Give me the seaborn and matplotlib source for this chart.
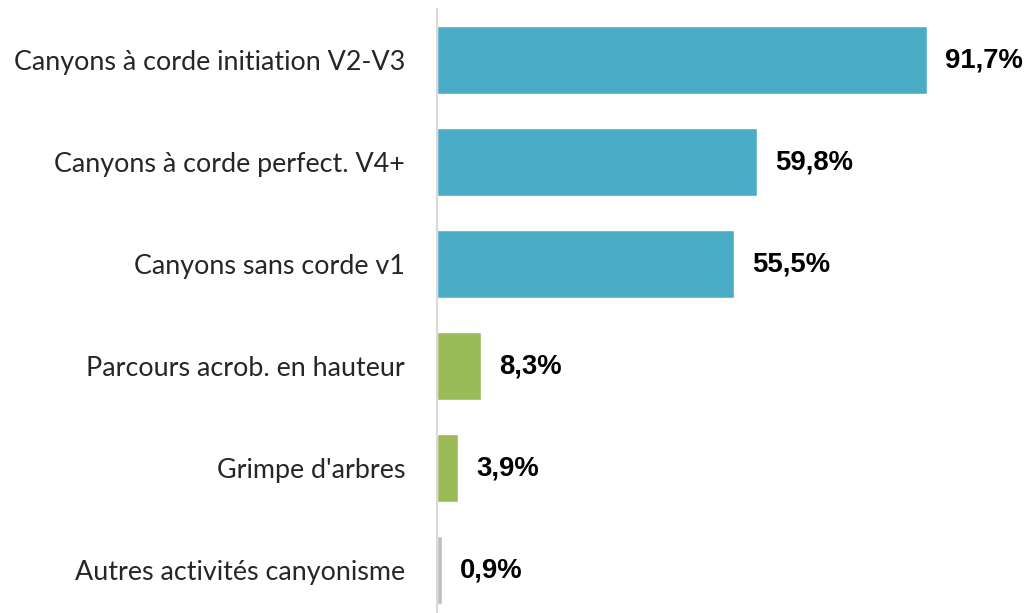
import pandas as pd
import matplotlib
matplotlib.use("Agg")
import matplotlib.pyplot as plt
import seaborn as sns

categories = ["Canyons à corde initiation V2-V3", "Canyons à corde perfect. V4+",
              "Canyons sans corde v1", "Parcours acrob. en hauteur",
              "Grimpe d'arbres", "Autres activités canyonisme"]
values = [91.7, 59.8, 55.5, 8.3, 3.9, 0.9]
groups = ["canyon", "canyon", "canyon", "hauteur", "hauteur", "autre"]
value_labels = ["91,7%", "59,8%", "55,5%", "8,3%", "3,9%", "0,9%"]

palette = {"canyon": "#4BACC6", "hauteur": "#9BBB59", "autre": "#BFBFBF"}

df = pd.DataFrame({"cat": categories, "val": values, "grp": groups})

sns.set_style("white")
fig = plt.figure(figsize=(10.33, 6.13), dpi=100)
ax = fig.add_axes([437/1033, 1 - 621/613, (1033 - 437)/1033, 612/613])

sns.barplot(data=df, y="cat", x="val", hue="grp", palette=palette,
            dodge=False, width=0.67, legend=False, ax=ax, saturation=1)

for i, (v, lab) in enumerate(zip(values, value_labels)):
    ax.text(v + 3.4, i, lab, va="center", ha="left", fontsize=19.8,
            fontweight="bold", family="Liberation Sans", color="black")

ax.set_xlim(0, 111.5)
ax.set_ylim(5.5, -0.5)
ax.set_xlabel("")
ax.set_ylabel("")
ax.set_xticks([])
ax.tick_params(axis="y", length=0, pad=23)
for t in ax.get_yticklabels():
    t.set_fontsize(19.4)
    t.set_family("Lato")
for s in ["top", "right", "bottom"]:
    ax.spines[s].set_visible(False)
ax.spines["left"].set_color("#D9D9D9")
ax.spines["left"].set_linewidth(1.5)

fig.savefig("out.png", dpi=100)
